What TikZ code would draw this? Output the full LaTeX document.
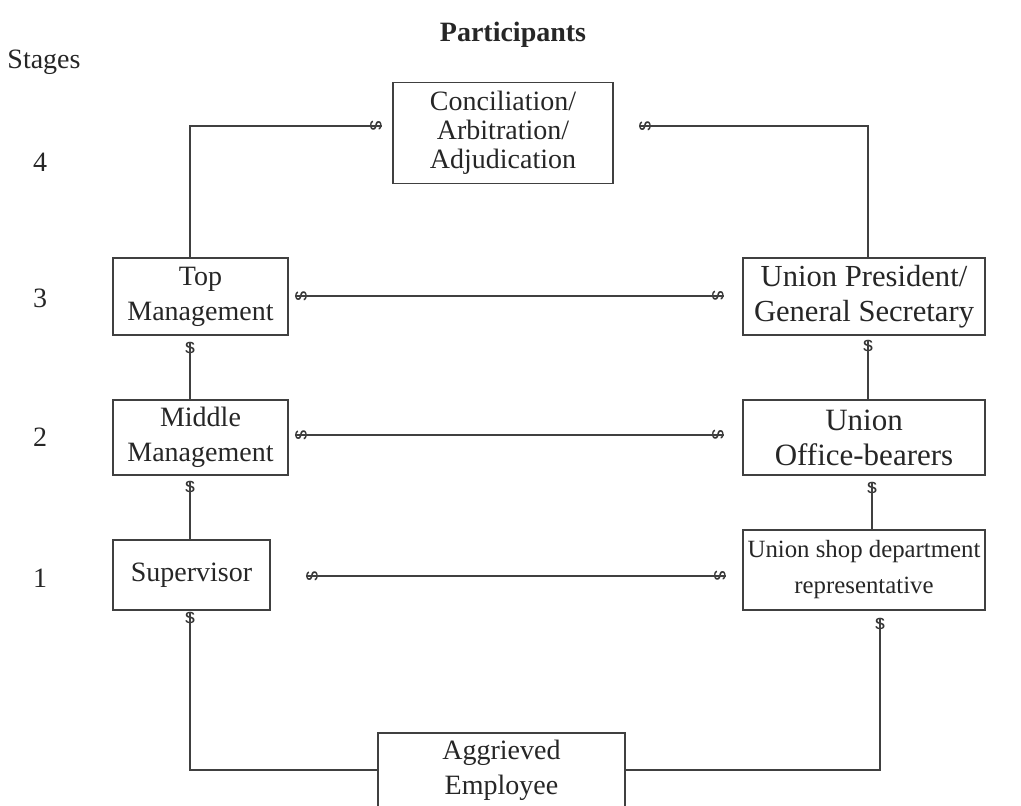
\documentclass[tikz,border=0pt]{standalone}
\usepackage{fontspec}
\setmainfont{Liberation Serif}
\newfontfamily\tipfont{Liberation Sans}

\tikzstyle{box} = [draw=black!75, line width=0.7pt, align=center, inner sep=0pt, text=black!85, font=\fontsize{14}{17.5}\selectfont]
\tikzstyle{tip} = [inner sep=0pt, text=black!80, font=\tipfont\fontsize{10.5}{10.5}\selectfont]
\tikzstyle{lbl} = [text=black!85, font=\fontsize{14}{17}\selectfont]
\tikzstyle{link} = [draw=black!75, line width=0.7pt]

\begin{document}
\begin{tikzpicture}[x=0.5pt, y=-0.5pt]
\clip (0,0) rectangle (1021,806);
%headings
\node[lbl, font=\bfseries\fontsize{14}{17}\selectfont] (head) at (513,35) {Participants};
\node[lbl] (stages) at (44,62) {Stages};
\node[lbl] (st4) at (40,162) {4};
\node[lbl] (st3) at (40,298) {3};
\node[lbl] (st2) at (40,437) {2};
\node[lbl] (st1) at (40,578) {1};
%begin stage4
\node[box, minimum width=110pt, minimum height=50.5pt, font=\fontsize{14}{14.5}\selectfont] (concil) at (503,133)
    {Conciliation/\\Arbitration/\\Adjudication};
%end stage4
%begin stage3
\node[box, minimum width=87.5pt, minimum height=38.5pt] (top) at (200.5,296.5) {Top\\Management};
\node[box, minimum width=121pt, minimum height=38.5pt, font=\fontsize{15.3}{17.5}\selectfont] (pres) at (864,296.5)
    {Union President/\\General Secretary};
%end stage3
%begin stage2
\node[box, minimum width=87.5pt, minimum height=37.5pt] (mid) at (200.5,437.5) {Middle\\Management};
\node[box, minimum width=121pt, minimum height=37.5pt, font=\fontsize{15.5}{17.5}\selectfont] (office) at (864,437.5)
    {Union\\Office-bearers};
%end stage2
%begin stage1
\node[box, minimum width=78.5pt, minimum height=35pt] (sup) at (191.5,575) {Supervisor};
\node[box, minimum width=121pt, minimum height=40pt, font=\fontsize{12.4}{18}\selectfont] (shop) at (864,570)
    {Union shop department\\representative};
%end stage1
%employee
\node[box, minimum width=123.5pt, minimum height=37pt] (aggr) at (501.5,770) {Aggrieved\\Employee};
%tips
\node[tip, rotate=-90] (g1) at (376,126) {s};
\node[tip, rotate=90] (g2) at (645,126) {s};
\node[tip, rotate=90] (g3) at (301,296) {s};
\node[tip, rotate=-90] (g4) at (718,296) {s};
\node[tip] (g5) at (190,348) {s};
\node[tip] (g6) at (868,346) {s};
\node[tip, rotate=90] (g7) at (301,435) {s};
\node[tip, rotate=-90] (g8) at (718,435) {s};
\node[tip] (g9) at (190,487) {s};
\node[tip] (g10) at (872,488) {s};
\node[tip, rotate=90] (g11) at (312,576) {s};
\node[tip, rotate=-90] (g12) at (720,576) {s};
\node[tip] (g13) at (190,618) {s};
\node[tip] (g14) at (880,624) {s};
\coordinate (c1) at (190,126);
\coordinate (c2) at (868,126);
%links
\draw[link] (top.north -| c1) -- (c1) -- (g1.north);
\draw[link] (pres.north -| c2) -- (c2) -- (g2.north);
\draw[link] (g3.north) -- (g4.north);
\draw[link] (g7.north) -- (g8.north);
\draw[link] (g11.north) -- (g12.north);
\draw[link] (mid.north -| g5) -- (g5.north);
\draw[link] (office.north -| g6) -- (g6.north);
\draw[link] (sup.north -| g9) -- (g9.north);
\draw[link] (shop.north -| g10) -- (g10.north);
\draw[link] (g13.north) |- (aggr.west);
\draw[link] (g14.north) |- (aggr.east);
\end{tikzpicture}
\end{document}
